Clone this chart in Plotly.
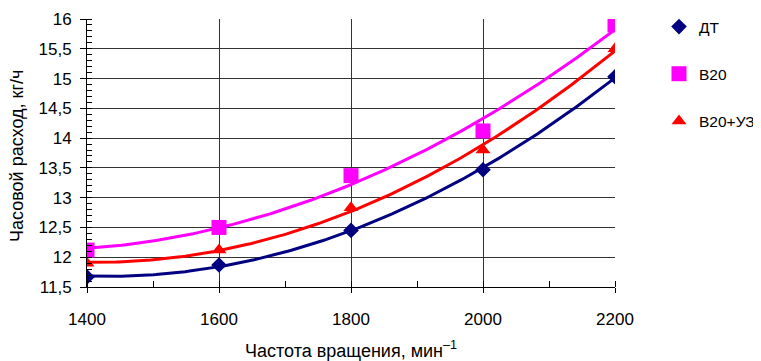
import numpy as np
import plotly.graph_objects as go

rpm = [1400, 1600, 1800, 2000, 2200]
dt = [11.67, 11.87, 12.45, 13.47, 15.03]
b20 = [12.12, 12.50, 13.37, 14.12, 15.90]
b20uz = [11.90, 12.12, 12.83, 13.80, 15.50]

names = ["ДТ", "B20", "B20+УЗ"]
series = [dt, b20, b20uz]
colors = ["#000080", "#FF00FF", "#FF0000"]
symbols = ["diamond", "square", "triangle-up"]
sizes = [12, 15, 13]

W, H = 753, 353
L, R, T, B = 79, 146, 11, 74
PW, PH = W - L - R, H - T - B

fig = go.Figure()
xs = np.linspace(rpm[0], rpm[-1], 200)
for name, ys, c in zip(names, series, colors):
    coef = np.polyfit(rpm, ys, 2)
    fig.add_trace(go.Scatter(x=xs, y=np.polyval(coef, xs), mode="lines",
                             line=dict(color=c, width=3), showlegend=False,
                             hoverinfo="skip"))
for i, (name, ys, c, s, sz) in enumerate(zip(names, series, colors, symbols, sizes)):
    fig.add_trace(go.Scatter(x=rpm, y=ys, mode="markers", name=name,
                             legendgroup=str(i),
                             marker=dict(color=c, symbol=s, size=sz, line=dict(width=0))))

fig.add_annotation(text="Частота вращения, мин<sup>–1</sup>", xref="paper", yref="paper",
                   x=(343 - L) / PW, y=(T + PH - 341) / PH, xanchor="center", yanchor="middle",
                   showarrow=False, font=dict(size=18))
fig.add_annotation(text="Часовой расход, кг/ч", xref="paper", yref="paper", textangle=-90,
                   x=(9 - L) / PW, y=(T + PH - 148) / PH, xanchor="center", yanchor="middle",
                   showarrow=False, font=dict(size=18))

fig.update_layout(
    width=W, height=H,
    margin=dict(l=L, r=R, t=T, b=B, autoexpand=False),
    paper_bgcolor="white", plot_bgcolor="white",
    separators=", ",
    font=dict(family="Liberation Sans, Arial", size=17, color="black"),
    legend=dict(xref="container", yref="container",
                x=651 / W, y=1 - 2 / H, xanchor="left", yanchor="top",
                tracegroupgap=24, font=dict(size=15.5), itemwidth=30),
    xaxis=dict(range=[1400, 2200], tickvals=[1400, 1600, 1800, 2000, 2200],
               automargin=False,
               showgrid=True, gridcolor="#333333", gridwidth=1,
               showline=True, linecolor="black", linewidth=1,
               ticks="outside", ticklen=5, tickcolor="black",
               ticklabelstandoff=12,
               minor=dict(dtick=100, ticks="inside", ticklen=6, tickcolor="black", showgrid=False),
               zeroline=False),
    yaxis=dict(range=[11.5, 16], dtick=0.5, tickformat=".1~f",
               automargin=False,
               showgrid=True, gridcolor="#333333", gridwidth=1,
               showline=True, linecolor="black", linewidth=1,
               ticks="outside", ticklen=6, tickcolor="black",
               ticklabelstandoff=5,
               minor=dict(dtick=0.1, ticks="inside", ticklen=5, tickcolor="black", showgrid=False),
               zeroline=False),
)
fig.write_html("out.html")
